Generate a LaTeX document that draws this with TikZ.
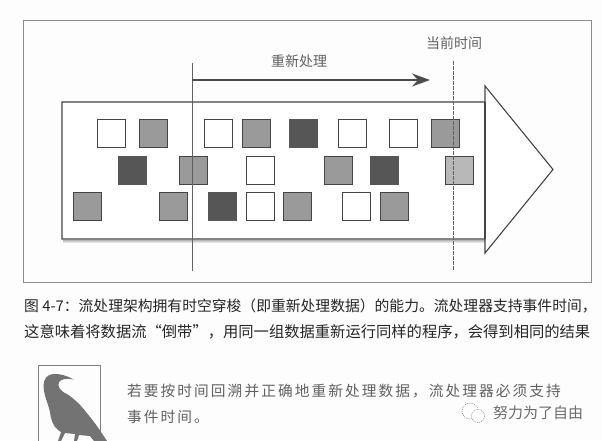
\documentclass[tikz,border=0pt]{standalone}
\usepackage{fontspec}
\usetikzlibrary{arrows.meta,calc}
\newfontfamily\cjk{Noto Sans CJK SC}
\newfontfamily\cjkwide[LetterSpace=14]{Noto Sans CJK SC}
\definecolor{ink}{HTML}{444444}
\definecolor{midgray}{HTML}{9A9A9A}
\definecolor{darkgray}{HTML}{565656}
\definecolor{lightgray2}{HTML}{B8B8B8}
\definecolor{paper}{HTML}{FDFDFD}
\tikzset{
  x=1pt,y=-1pt,
  sq/.style={draw=ink,line width=1pt,minimum size=28pt,inner sep=0pt,outer sep=0pt},
  whitesq/.style={sq,fill=white},
  graysq/.style={sq,fill=midgray},
  darksq/.style={sq,fill=darkgray,draw=darkgray},
  lightsq/.style={sq,fill=lightgray2},
  label/.style={inner sep=0pt,text=black!62,font=\cjk\fontsize{14}{14}\selectfont},
  caption/.style={anchor=west,inner sep=0pt,text=black!85},
  note/.style={anchor=west,inner sep=0pt,text=black!62,font=\cjkwide\fontsize{14.7}{15}\selectfont},
  guide/.style={draw=black!62,line width=1pt},
}
\begin{document}
\begin{tikzpicture}
\useasboundingbox (0,0) rectangle (602,440);
\fill[paper] (0,0) rectangle (602,440);
% outer frame
\draw[draw=black!45,line width=0.8pt] (23,20) rectangle (591,282);
% soft shadow of the stream arrow
\foreach \o/\t in {3.5/0.10,2.5/0.18,1.5/0.28}{
  \draw[black,opacity=\t,line width=1pt] (63,239+\o) -- (485,239+\o);
}
% stream arrow
\draw[draw=ink,line width=1.1pt,fill=white]
  (62,102) -- (485,102) -- (485,86) -- (553,169.5) -- (485,253) -- (485,239) -- (62,239) -- cycle;
\draw[draw=ink,line width=1.1pt] (485,102) -- (485,239);
% row 1
\node[whitesq] (a1) at (111,133.5) {};
\node[graysq]  (a2) at (153,133.5) {};
\node[whitesq] (a3) at (218.5,133.5) {};
\node[graysq]  (a4) at (256,133.5) {};
\node[darksq]  (a5) at (303.5,133.5) {};
\node[whitesq] (a6) at (352.5,133.5) {};
\node[whitesq] (a7) at (403.5,133.5) {};
\node[graysq]  (a8) at (445.5,133.5) {};
% row 2
\node[darksq]  (b1) at (132.5,170) {};
\node[graysq]  (b2) at (193.5,170) {};
\node[whitesq] (b3) at (260.5,170) {};
\node[graysq]  (b4) at (338,170) {};
\node[darksq]  (b5) at (384,170) {};
\node[lightsq] (b6) at (459,170) {};
% row 3
\node[graysq]  (c1) at (87.5,206) {};
\node[graysq]  (c2) at (173,206) {};
\node[darksq]  (c3) at (222,206) {};
\node[whitesq] (c4) at (260.5,206) {};
\node[graysq]  (c5) at (297.5,206) {};
\node[whitesq] (c6) at (356.5,206) {};
\node[graysq]  (c7) at (394,206) {};
% guides
\coordinate (startT) at (192,63);
\coordinate (startB) at (192,271);
\coordinate (nowT) at (453,61);
\coordinate (nowB) at (453,271);
\coordinate (arrS) at (192,80);
\coordinate (arrE) at (430,80);
\draw[guide] (startT) -- (startB);
\draw[guide,dash pattern=on 3.5pt off 1.5pt] (nowT) -- (nowB);
\draw[draw=black!70,line width=2pt,-{Stealth[length=18pt,width=13pt,inset=6pt]}] (arrS) -- (arrE);
% labels
\node[label] (redo) at (299,61) {重新处理};
\node[label] (now) at (454,43) {当前时间};
% caption
\node[caption,font=\cjk\fontsize{14.8}{15}\selectfont] (cap1) at (24,306) {图 4-7：流处理架构拥有时空穿梭（即重新处理数据）的能力。流处理器支持事件时间，};
\node[caption,font=\cjk\fontsize{15.3}{15}\selectfont] (cap2) at (24,332) {这意味着将数据流“倒带”，用同一组数据重新运行同样的程序，会得到相同的结果};
% note icon
\begin{scope}
\clip (0,0) rectangle (602,440);
\draw[draw=black!50,line width=0.8pt] (38.5,440.5) -- (38.5,365) -- (100.5,365) -- (100.5,440.5);
\fill[black!55]
  (73.5,379.5) .. controls (68,376) and (60,373.5) .. (53,374)
  .. controls (47,374.5) and (43.5,379) .. (43.5,386)
  .. controls (44,396) and (48,403) .. (50,412)
  .. controls (51,420) and (53,426) .. (58,430)
  -- (61,432) -- (58,441) -- (61,441) -- (65,433) -- (75,434) -- (74,441) -- (77,441) -- (79,435)
  -- (90,436) -- (94,441) -- (107,441)
  .. controls (100,430) and (92,419) .. (86,412)
  .. controls (80,404) and (73,398) .. (67,394)
  .. controls (60,391) and (57,386) .. (59,382)
  .. controls (61,379) and (67,378) .. (73.5,379.5) -- cycle;
\end{scope}
% note
\node[note] (n1) at (127,391) {若要按时间回溯并正确地重新处理数据，流处理器必须支持};
\node[note] (n2) at (127,417) {事件时间。};
% watermark
\draw[draw=black!45,line width=0.6pt,dash pattern=on 1pt off 1pt,fill=white] (470,411) circle (8);
\draw[draw=black!45,line width=0.6pt,dash pattern=on 1pt off 1pt,fill=white] (478,416) circle (6.5);
\node[inner sep=0pt,text=black!58,font=\cjk\fontsize{15}{15}\selectfont] (wm) at (538,413) {努力为了自由};
\end{tikzpicture}
\end{document}
